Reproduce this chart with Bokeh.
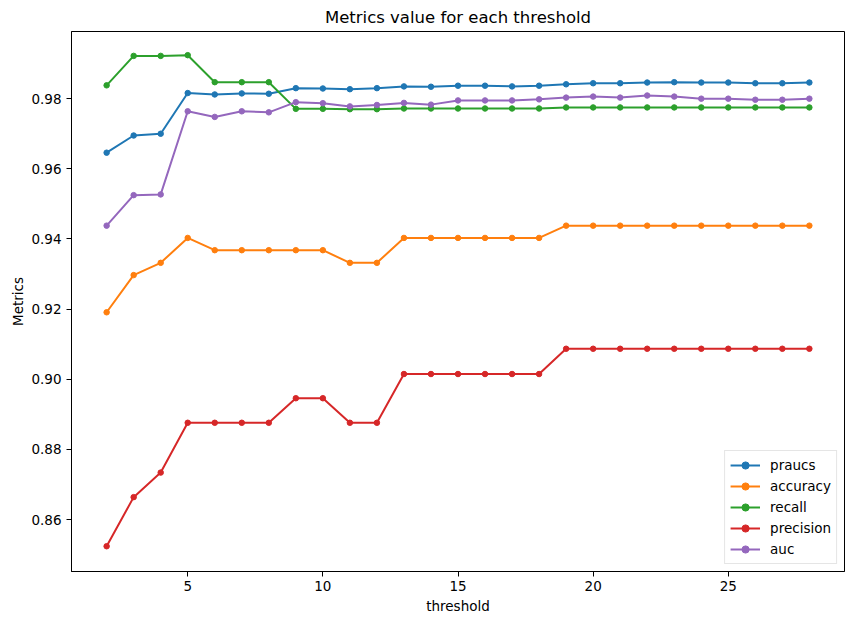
from bokeh.plotting import figure
from bokeh.models import FixedTicker, NumeralTickFormatter, Legend, LegendItem, Range1d
from bokeh.embed import file_html
from bokeh.resources import INLINE

threshold = list(range(2, 29))

praucs = [0.9646, 0.9695, 0.9700, 0.9816, 0.9812, 0.9815, 0.9814, 0.9830, 0.9829,
          0.9827, 0.9830, 0.9835, 0.9834, 0.9837, 0.9837, 0.9835, 0.9837, 0.9841,
          0.9844, 0.9844, 0.9846, 0.9847, 0.9846, 0.9846, 0.9844, 0.9844, 0.9846]
accuracy = [0.9191, 0.9297, 0.9332, 0.9403, 0.9368, 0.9368, 0.9368, 0.9368, 0.9368,
            0.9332, 0.9332, 0.9403, 0.9403, 0.9403, 0.9403, 0.9403, 0.9403, 0.9438,
            0.9438, 0.9438, 0.9438, 0.9438, 0.9438, 0.9438, 0.9438, 0.9438, 0.9438]
recall = [0.9838, 0.9922, 0.9922, 0.9924, 0.9847, 0.9847, 0.9847, 0.9771, 0.9771,
          0.9770, 0.9770, 0.9772, 0.9772, 0.9772, 0.9772, 0.9772, 0.9772, 0.9775,
          0.9775, 0.9775, 0.9775, 0.9775, 0.9775, 0.9775, 0.9775, 0.9775, 0.9775]
precision = [0.8524, 0.8664, 0.8734, 0.8876, 0.8876, 0.8876, 0.8876, 0.8946, 0.8946,
             0.8876, 0.8876, 0.9015, 0.9015, 0.9015, 0.9015, 0.9015, 0.9015, 0.9087,
             0.9087, 0.9087, 0.9087, 0.9087, 0.9087, 0.9087, 0.9087, 0.9087, 0.9087]
auc = [0.9438, 0.9525, 0.9527, 0.9764, 0.9748, 0.9764, 0.9761, 0.9790, 0.9787,
       0.9778, 0.9782, 0.9788, 0.9783, 0.9795, 0.9795, 0.9795, 0.9798, 0.9803,
       0.9806, 0.9803, 0.9809, 0.9806, 0.9800, 0.9800, 0.9797, 0.9797, 0.9800]

series_names = ["praucs", "accuracy", "recall", "precision", "auc"]
series_values = [praucs, accuracy, recall, precision, auc]
colors = ["#1f77b4", "#ff7f0e", "#2ca02c", "#d62728", "#9467bd"]

x_ticks = [5, 10, 15, 20, 25]
y_ticks = [0.86, 0.88, 0.90, 0.92, 0.94, 0.96, 0.98]

FONT = "DejaVu Sans"

p = figure(width=838, height=616, output_backend="svg", toolbar_location=None,
           x_range=Range1d(0.7, 29.3), y_range=Range1d(0.8452, 0.99915),
           title="Metrics value for each threshold",
           min_border_left=40, min_border_right=1, min_border_top=24, min_border_bottom=40,
           margin=(0, 0, 0, 7))

p.title.align = "center"
p.title.text_font = FONT
p.title.text_font_size = "16.5px"
p.title.text_font_style = "normal"
p.title.text_color = "black"

p.xgrid.visible = False
p.ygrid.visible = False
p.outline_line_color = "black"
p.outline_line_alpha = 1.0
p.outline_line_width = 1

for ax in (p.xaxis, p.yaxis):
    ax.axis_line_color = "black"
    ax.major_tick_line_color = "black"
    ax.minor_tick_line_color = None
    ax.major_tick_in = 0
    ax.major_tick_out = 5
    ax.major_label_text_font = FONT
    ax.major_label_text_font_size = "13.5px"
    ax.major_label_text_color = "black"
    ax.axis_label_text_font = FONT
    ax.axis_label_text_font_size = "13.5px"
    ax.axis_label_text_font_style = "normal"
    ax.axis_label_text_color = "black"

p.xaxis.ticker = FixedTicker(ticks=x_ticks)
p.yaxis.ticker = FixedTicker(ticks=y_ticks)
p.yaxis.formatter = NumeralTickFormatter(format="0.00")
p.xaxis.axis_label = "threshold"
p.yaxis.axis_label = "Metrics"
p.xaxis.major_label_standoff = 4
p.yaxis.major_label_standoff = 5
p.xaxis.axis_label_standoff = 4
p.yaxis.axis_label_standoff = 2

items = []
for name, vals, c in zip(series_names, series_values, colors):
    l = p.line(threshold, vals, line_color=c, line_width=2)
    s = p.scatter(threshold, vals, marker="circle", size=5.5, fill_color=c, line_color=c)
    items.append(LegendItem(label=name, renderers=[l, s]))

legend = Legend(items=items, location="bottom_right")
legend.margin = 7
legend.padding = 5
legend.spacing = 3
legend.label_height = 18
legend.glyph_height = 18
legend.glyph_width = 30
legend.label_standoff = 10
legend.label_text_font = FONT
legend.label_text_font_size = "13.5px"
legend.label_text_color = "black"
legend.border_line_color = "#cccccc"
legend.border_line_width = 1
legend.background_fill_alpha = 0.8
p.add_layout(legend)

open("out.html", "w").write(file_html(p, INLINE))
